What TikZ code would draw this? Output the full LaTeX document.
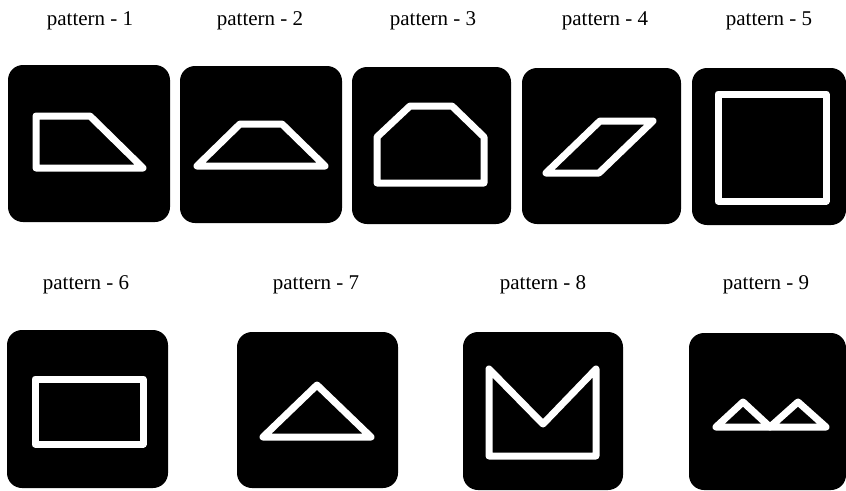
\documentclass[tikz,border=0pt]{standalone}
\usepackage{fontspec}
\setmainfont{Liberation Serif}
\begin{document}
\begin{tikzpicture}[x=1pt,y=-1pt,
  panel/.style={fill=black,rounded corners=15pt},
  glyph/.style={draw=white,line width=7pt,line join=round,line cap=round},
  lab/.style={anchor=base,inner sep=0pt,font=\fontsize{21}{25}\selectfont}]
\useasboundingbox[fill=white] (0,0) rectangle (846,490);
% labels
\node[lab] (l1) at (90,25) {pattern - 1};
\node[lab] (l2) at (260,25) {pattern - 2};
\node[lab] (l3) at (433,25) {pattern - 3};
\node[lab] (l4) at (605,25) {pattern - 4};
\node[lab] (l5) at (769,25) {pattern - 5};
\node[lab] (l6) at (86,289) {pattern - 6};
\node[lab] (l7) at (316,289) {pattern - 7};
\node[lab] (l8) at (543,289) {pattern - 8};
\node[lab] (l9) at (766,289) {pattern - 9};
% panels
\fill[panel] (8,65) rectangle (170,222);
\fill[panel] (180,66) rectangle (342,223);
\fill[panel] (352,67) rectangle (511,224);
\fill[panel] (522,68) rectangle (681,224);
\fill[panel] (692,68) rectangle (846,225);
\fill[panel] (7,330) rectangle (168,488);
\fill[panel] (237,332) rectangle (398,488);
\fill[panel] (463,332) rectangle (623,490);
\fill[panel] (689,333) rectangle (846,490);
% glyphs
\draw[glyph] (36,116) -- (90,116) -- (143,168) -- (36,168) -- cycle;
\draw[glyph] (240,124) -- (282,124) -- (325,166) -- (197,166) -- cycle;
\draw[glyph] (377,183) -- (377,137) -- (410,106) -- (452,106) -- (484,137) -- (484,183) -- cycle;
\draw[glyph] (600,121) -- (653,121) -- (599,173) -- (546,173) -- cycle;
\draw[glyph] (718,94) -- (826,94) -- (826,201) -- (718,201) -- cycle;
\draw[glyph] (35,379) -- (143,379) -- (143,444) -- (35,444) -- cycle;
\draw[glyph] (317,385) -- (371,437) -- (263,437) -- cycle;
\draw[glyph] (489,369) -- (489,456) -- (596,456) -- (596,369) -- (543,424) -- cycle;
\draw[glyph] (716,427) -- (743,402) -- (770,427) -- cycle;
\draw[glyph] (770,427) -- (798,402) -- (826,427) -- cycle;
\end{tikzpicture}
\end{document}
